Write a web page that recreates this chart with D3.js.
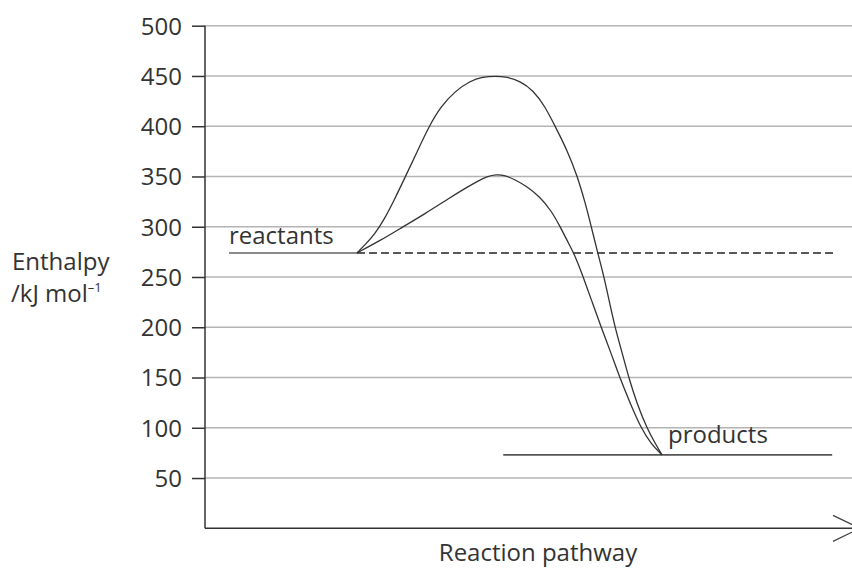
<!DOCTYPE html>
<html>
<head>
<meta charset="utf-8">
<script src="https://cdn.jsdelivr.net/npm/d3@7"></script>
<style>
  html, body { margin: 0; padding: 0; background: #fff; }
  svg text { font-family: "Open Sans", "Noto Sans", sans-serif; fill: #333; }
</style>
</head>
<body>
<svg id="chart" width="852" height="572"></svg>
<script>
// ---- data ----
const yTicks = [50, 100, 150, 200, 250, 300, 350, 400, 450, 500];
const reactantLevel = 274;
const productLevel = 73;
const reactantSpan = [3.75, 23.75];     // pathway positions of reactants line
const productSpan = [46.6, 98.0];       // pathway positions of products line
const dashedSpan = [23.75, 98.4];
// uncatalysed pathway (x = reaction progress, y = enthalpy)
const upperX = [23.75, 25.16, 26.56, 27.97, 29.53, 31.25, 33.1, 35.0, 36.9, 39.1, 41.4, 43.4, 45.3, 47.2, 49.2, 51.25, 53.1, 54.7, 56.6, 58.2, 59.4, 60.4, 61.4, 62.35, 63.2, 64.1, 65.2, 66.25, 67.5, 69.1, 70.3, 71.4];
const upperY = [274, 283, 293, 307, 326, 349, 374, 400, 420, 435, 445, 449, 450, 449, 445, 436, 420, 400, 376, 350, 324, 299, 273, 250, 225, 199, 174, 149, 124, 99, 85, 73];
// catalysed pathway
const lowerX = [23.75, 27.3, 30.7, 34.4, 38.3, 40.6, 42.5, 44.1, 45.5, 46.9, 48.4, 50.3, 52.3, 54.1, 55.5, 56.6, 57.7, 59.1, 60.5, 61.9, 63.4, 64.8, 66.4, 68.1, 69.7, 71.4];
const lowerY = [274, 286, 299, 313, 329, 338, 345, 350, 352, 351, 347, 340, 330, 316, 300, 286, 273, 250, 225, 200, 175, 150, 125, 100, 84, 73];

// ---- drawing ----
const svg = d3.select("#chart");
const x = d3.scaleLinear().domain([0, 100]).range([205, 845]);
const y = d3.scaleLinear().domain([0, 500]).range([528.3, 25.7]);
const xLeft = 205, xRight = 852;

// gridlines
svg.append("g").selectAll("line").data(yTicks).join("line")
  .attr("x1", xLeft).attr("x2", xRight)
  .attr("y1", d => y(d)).attr("y2", d => y(d))
  .attr("stroke", "#b4b4b4").attr("stroke-width", 1.5);

// y axis
const yAxis = svg.append("g").attr("transform", `translate(${xLeft},0)`)
  .call(d3.axisLeft(y).tickValues(yTicks).tickSize(13).tickPadding(10).tickFormat(d3.format("d")));
yAxis.select(".domain").remove();
yAxis.selectAll(".tick line").attr("stroke", "#333").attr("stroke-width", 1.5);
yAxis.selectAll(".tick text").attr("font-size", 24).attr("fill", "#333")
  .style("font-family", '"Open Sans", sans-serif').attr("dy", "0.35em");

// axis lines
svg.append("line").attr("x1", xLeft).attr("x2", xLeft).attr("y1", y(500)).attr("y2", y(0))
  .attr("stroke", "#333").attr("stroke-width", 1.5);
svg.append("line").attr("x1", xLeft).attr("x2", xRight).attr("y1", y(0)).attr("y2", y(0))
  .attr("stroke", "#333").attr("stroke-width", 1.5);
// arrow head (chevron)
const y0 = y(0);
svg.append("path")
  .attr("d", `M833,${y0 - 13} L860,${y0} L833,${y0 + 13}`)
  .attr("fill", "none").attr("stroke", "#444").attr("stroke-width", 1.3);

// reactants / products levels
svg.append("line").attr("x1", x(reactantSpan[0])).attr("x2", x(reactantSpan[1]))
  .attr("y1", y(reactantLevel)).attr("y2", y(reactantLevel))
  .attr("stroke", "#8a8a8a").attr("stroke-width", 2);
svg.append("line").attr("x1", x(dashedSpan[0])).attr("x2", x(dashedSpan[1]))
  .attr("y1", y(reactantLevel)).attr("y2", y(reactantLevel))
  .attr("stroke", "#222").attr("stroke-width", 1.5).attr("stroke-dasharray", "8,4");
svg.append("line").attr("x1", x(productSpan[0])).attr("x2", x(productSpan[1]))
  .attr("y1", y(productLevel)).attr("y2", y(productLevel))
  .attr("stroke", "#555").attr("stroke-width", 1.6);

// curves
const line = d3.line().x(d => x(d[0])).y(d => y(d[1])).curve(d3.curveBasis);
svg.append("path").datum(d3.zip(upperX, upperY)).attr("d", line)
  .attr("fill", "none").attr("stroke", "#333").attr("stroke-width", 1.3);
svg.append("path").datum(d3.zip(lowerX, lowerY)).attr("d", line)
  .attr("fill", "none").attr("stroke", "#333").attr("stroke-width", 1.3);

// labels
svg.append("text").attr("x", 229).attr("y", 244).attr("font-size", 24).text("reactants");
svg.append("text").attr("x", 668).attr("y", 443).attr("font-size", 24).text("products");
svg.append("text").attr("x", 538).attr("y", 561).attr("font-size", 24)
  .attr("text-anchor", "middle").text("Reaction pathway");
svg.append("text").attr("x", 12).attr("y", 270).attr("font-size", 24).text("Enthalpy");
const unit = svg.append("text").attr("x", 11).attr("y", 302).attr("font-size", 24);
unit.append("tspan").text("/kJ mol");
unit.append("tspan").attr("font-size", 13).attr("dy", -10).text("–1");
</script>
</body>
</html>
